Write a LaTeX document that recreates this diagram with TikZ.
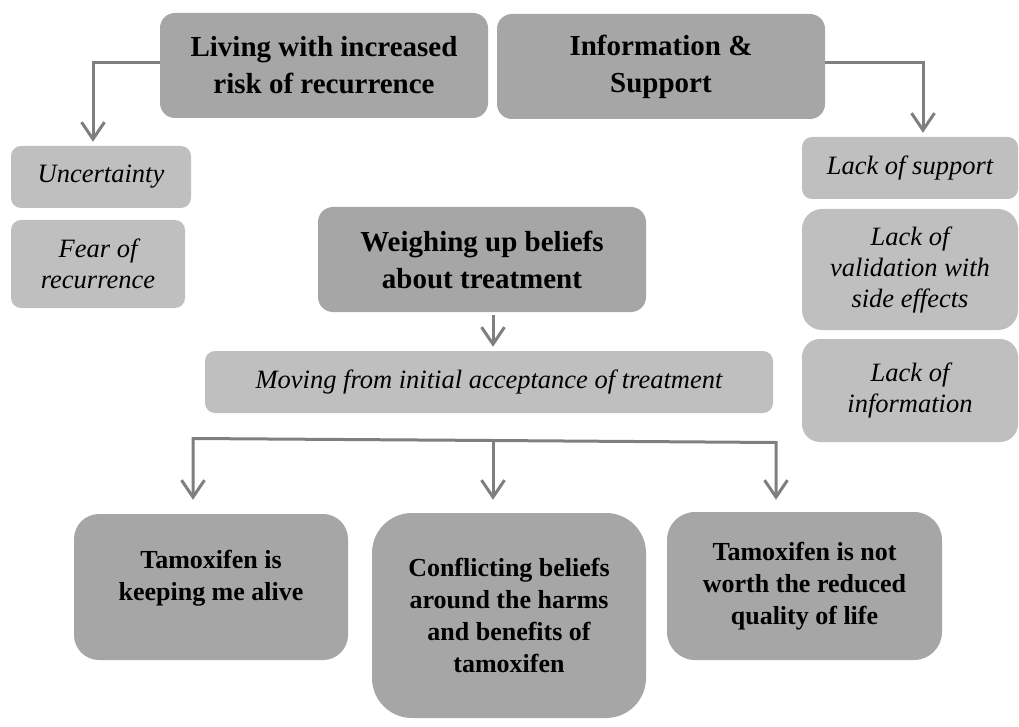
\documentclass[tikz,border=0pt]{standalone}
\usepackage{fontspec}
\setmainfont{Liberation Serif}
\usetikzlibrary{arrows.meta}
\definecolor{boxdark}{HTML}{A6A6A6}
\definecolor{boxlight}{HTML}{BFBFBF}
\definecolor{linkgray}{HTML}{7F7F7F}
\begin{document}
\begin{tikzpicture}[x=1pt,y=-1pt,
  theme/.style={fill=boxdark, rounded corners=15pt, inner sep=0pt, align=center,
    minimum width=328pt, minimum height=105pt,
    font=\fontsize{29}{37}\selectfont\bfseries},
  subtheme/.style={fill=boxlight, rounded corners=10pt, inner sep=0pt, align=center,
    font=\fontsize{26.5}{31}\selectfont\itshape},
  outcometext/.style={inner sep=0pt, align=center,
    font=\fontsize{26}{32}\selectfont\bfseries},
  outcome/.style={fill=boxdark, outcometext},
  link/.style={draw=linkgray, line width=3pt, line join=miter},
  linkarrow/.style={link, -{Straight Barb[length=17pt,width=23pt]}}]
\useasboundingbox (0,0) rectangle (1019,727);

% main themes
\node[theme] (living)  at (324,65.5)  {Living with increased\\risk of recurrence};
\node[theme] (infosup) at (661,66.5)  {Information \&\\Support};
\node[theme] (weigh)   at (482,259.5) {Weighing up beliefs\\about treatment};

% sub-themes
\node[subtheme, minimum width=180pt, minimum height=62pt] (uncert) at (101,177) {Uncertainty};
\node[subtheme, minimum width=174pt, minimum height=88pt] (fear) at (98,264) {Fear of\\recurrence};
\node[subtheme, minimum width=568pt, minimum height=62pt] (moving) at (489,382)
  {Moving from initial acceptance of treatment};
\node[subtheme, minimum width=216pt, minimum height=62pt] (lsup) at (910,168) {Lack of support};
\node[subtheme, minimum width=216pt, minimum height=121pt, rounded corners=20pt] (lval) at (910,269.5)
  {Lack of\\validation with\\side effects};
\node[subtheme, minimum width=216pt, minimum height=103pt, rounded corners=18pt] (linfo) at (910,390.5)
  {Lack of\\information};

% outcomes
\node[outcome, minimum width=274pt, minimum height=146pt, rounded corners=25pt] (alive) at (211,587) {};
\node[outcometext] (alivetext) at ([yshift=9pt]alive.center) {Tamoxifen is\\keeping me alive};
\node[outcome, minimum width=274pt, minimum height=205pt, rounded corners=40pt] (conflict) at (509,615.5)
  {Conflicting beliefs\\around the harms\\and benefits of\\tamoxifen};
\node[outcome, minimum width=275pt, minimum height=148pt, rounded corners=28pt] (notworth) at (804.5,586)
  {Tamoxifen is not\\worth the reduced\\quality of life};

% connectors from the themes
\draw[linkarrow] ([yshift=2.5pt]living.west) -| ([xshift=-8pt,yshift=4pt]uncert.north);
\draw[linkarrow] ([yshift=3.5pt]infosup.east) -| ([xshift=13pt,yshift=4pt]lsup.north);
\draw[linkarrow] ([xshift=11pt,yshift=-3pt]weigh.south) -- ([xshift=4pt,yshift=4pt]moving.north);

% branching bar to the outcomes
\coordinate (bL) at (193,438.5);
\coordinate (bM) at (493,440.5);
\coordinate (bR) at (776,442.5);
\draw[linkarrow, shorten >=14pt] (bM) -- (bL) -- (bL |- alive.north);
\draw[linkarrow, shorten >=13pt] (bM) -- (bM |- conflict.north);
\draw[linkarrow, shorten >=12pt] (bM) -- (bR) -- (bR |- notworth.north);
\end{tikzpicture}
\end{document}
